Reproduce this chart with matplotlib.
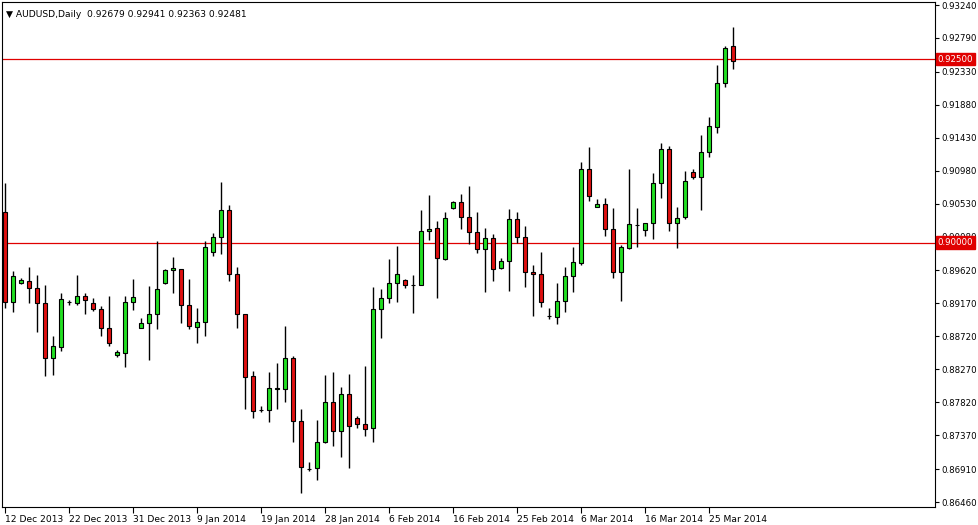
import matplotlib
matplotlib.use("Agg")
import matplotlib.pyplot as plt
import numpy as np

# daily AUDUSD candles, 12 Dec 2013 .. 28 Mar 2014
opens = [0.90416, 0.89188, 0.89447, 0.89475, 0.89379, 0.89174, 0.88424, 0.88574, 0.89188, 0.89174,
         0.89270, 0.89174, 0.89093, 0.88833, 0.88465, 0.88492, 0.89188, 0.88833, 0.88902, 0.89024,
         0.89447, 0.89625, 0.89638, 0.89147, 0.88847, 0.88915, 0.89870, 0.90075, 0.90443, 0.89570,
         0.89024, 0.88179, 0.87715, 0.87715, 0.88001, 0.88001, 0.88424, 0.87565, 0.86910, 0.86924,
         0.87278, 0.87824, 0.87428, 0.87933, 0.87606, 0.87524, 0.87469, 0.89093, 0.89243, 0.89447,
         0.89488, 0.89420, 0.89420, 0.90157, 0.90198, 0.89775, 0.90470, 0.90552, 0.90348, 0.90143,
         0.89911, 0.90061, 0.89652, 0.89747, 0.90320, 0.90075, 0.89597, 0.89570, 0.88997, 0.88983,
         0.89202, 0.89543, 0.89720, 0.91003, 0.90484, 0.90525, 0.90184, 0.89597, 0.89925, 0.90239,
         0.90170, 0.90266, 0.90812, 0.91275, 0.90266, 0.90348, 0.90962, 0.90893, 0.91234, 0.91575,
         0.92176, 0.92679]
highs = [0.90812, 0.89611, 0.89516, 0.89666, 0.89556, 0.89420, 0.88724, 0.89311, 0.89215, 0.89556,
         0.89311, 0.89243, 0.89134, 0.89270, 0.88533, 0.89270, 0.89502, 0.88970, 0.89406, 0.90020,
         0.89638, 0.89802, 0.89638, 0.89502, 0.89106, 0.90020, 0.90129, 0.90825, 0.90511, 0.89666,
         0.89024, 0.88247, 0.87769, 0.88233, 0.88356, 0.88861, 0.88451, 0.87728, 0.87005, 0.87578,
         0.88192, 0.88233, 0.88029, 0.88206, 0.87633, 0.88315, 0.89393, 0.89365, 0.89775, 0.89952,
         0.89502, 0.89556, 0.90443, 0.90648, 0.90293, 0.90416, 0.90566, 0.90661, 0.90771, 0.90416,
         0.90198, 0.90116, 0.89788, 0.90457, 0.90416, 0.90225, 0.89693, 0.89870, 0.89106, 0.89447,
         0.89666, 0.89938, 0.91098, 0.91303, 0.90593, 0.90607, 0.90470, 0.89966, 0.91003, 0.90470,
         0.90266, 0.90948, 0.91357, 0.91316, 0.90484, 0.90975, 0.91003, 0.91466, 0.91712, 0.92421,
         0.92680, 0.92941]
lows = [0.89106, 0.89052, 0.89434, 0.89174, 0.88779, 0.88179, 0.88192, 0.88520, 0.89147, 0.89147,
        0.89024, 0.89065, 0.88724, 0.88588, 0.88438, 0.88301, 0.89079, 0.88833, 0.88397, 0.88820,
        0.89434, 0.89311, 0.88902, 0.88820, 0.88629, 0.88724, 0.89816, 0.89843, 0.89475, 0.88833,
        0.87728, 0.87606, 0.87687, 0.87551, 0.87728, 0.87824, 0.87278, 0.86582, 0.86883, 0.86760,
        0.87265, 0.87224, 0.87074, 0.86924, 0.87469, 0.87360, 0.87278, 0.88697, 0.89174, 0.89188,
        0.89379, 0.89038, 0.89420, 0.90034, 0.89243, 0.89761, 0.90457, 0.90184, 0.89979, 0.89857,
        0.89325, 0.89475, 0.89638, 0.89338, 0.89993, 0.89393, 0.88997, 0.89120, 0.88956, 0.88888,
        0.89052, 0.89325, 0.89693, 0.90566, 0.90484, 0.90088, 0.89516, 0.89202, 0.89911, 0.89938,
        0.90088, 0.90048, 0.90607, 0.90157, 0.89925, 0.90320, 0.90866, 0.90443, 0.91166, 0.91494,
        0.92121, 0.92363]
closes = [0.89188, 0.89543, 0.89488, 0.89379, 0.89174, 0.88424, 0.88588, 0.89229, 0.89188, 0.89270,
          0.89215, 0.89093, 0.88833, 0.88629, 0.88506, 0.89188, 0.89256, 0.88902, 0.89024, 0.89365,
          0.89625, 0.89652, 0.89147, 0.88861, 0.88915, 0.89938, 0.90075, 0.90443, 0.89570, 0.89024,
          0.88165, 0.87701, 0.87715, 0.88015, 0.88015, 0.88424, 0.87565, 0.86937, 0.86910, 0.87278,
          0.87824, 0.87428, 0.87933, 0.87497, 0.87524, 0.87456, 0.89093, 0.89243, 0.89447, 0.89570,
          0.89420, 0.89420, 0.90157, 0.90184, 0.89788, 0.90334, 0.90552, 0.90348, 0.90143, 0.89911,
          0.90061, 0.89638, 0.89747, 0.90320, 0.90075, 0.89597, 0.89570, 0.89188, 0.88997, 0.89202,
          0.89543, 0.89734, 0.91003, 0.90634, 0.90525, 0.90184, 0.89597, 0.89938, 0.90252, 0.90239,
          0.90266, 0.90812, 0.91275, 0.90266, 0.90334, 0.90839, 0.90893, 0.91234, 0.91589, 0.92176,
          0.92653, 0.92481]

date_labels = ["12 Dec 2013", "22 Dec 2013", "31 Dec 2013", "9 Jan 2014", "19 Jan 2014",
               "28 Jan 2014", "6 Feb 2014", "16 Feb 2014", "25 Feb 2014", "6 Mar 2014",
               "16 Mar 2014", "25 Mar 2014"]
label_step = 8
price_ticks = [0.93240, 0.92790, 0.92330, 0.91880, 0.91430, 0.90980, 0.90530, 0.90080,
               0.89620, 0.89170, 0.88720, 0.88270, 0.87820, 0.87370, 0.86910, 0.86460]
levels = [0.92500, 0.90000]

BULL = "#22e022"
BEAR = "#e01010"

fig = plt.figure(figsize=(9.79, 5.25), dpi=100)
ax = fig.add_axes([2 / 979, 1 - 507 / 525, 933 / 979, 505 / 525])

o = np.array(opens); h = np.array(highs); l = np.array(lows); c = np.array(closes)
x = np.arange(len(o))
up = c >= o
ax.vlines(x, l, h, color="black", lw=1, zorder=2)
ax.bar(x, c - o, bottom=o, width=0.62, color=np.where(up, BULL, BEAR),
       edgecolor="black", linewidth=0.8, zorder=3)

for lv in levels:
    ax.axhline(lv, color="#e00000", lw=0.9, zorder=1)

ax.set_xlim(-0.375, -0.375 + 933 / 8)
ax.set_ylim(0.86392, 0.93281)

ax.yaxis.tick_right()
ax.set_yticks(price_ticks)
ax.set_yticklabels([f"{v:.5f}" for v in price_ticks], fontsize=6.2)
ax.tick_params(axis="y", length=3, pad=1.5)

xt = np.arange(len(date_labels)) * label_step
ax.set_xticks(xt)
ax.set_xticklabels(date_labels, fontsize=6.6, ha="left")
ax.tick_params(axis="x", length=4, pad=2)

for lv in levels:
    ax.text(1.0025, lv, f"{lv:.5f}", transform=ax.get_yaxis_transform(), fontsize=6.2,
            color="white", va="center", ha="left",
            bbox=dict(boxstyle="square,pad=0.2", fc="#e00000", ec="#e00000"))

ax.text(0.004, 0.985, "\u25bc AUDUSD,Daily  0.92679 0.92941 0.92363 0.92481",
        transform=ax.transAxes, fontsize=6.6, va="top", ha="left")

for s in ax.spines.values():
    s.set_linewidth(0.8)

fig.savefig("out.png", dpi=100)
